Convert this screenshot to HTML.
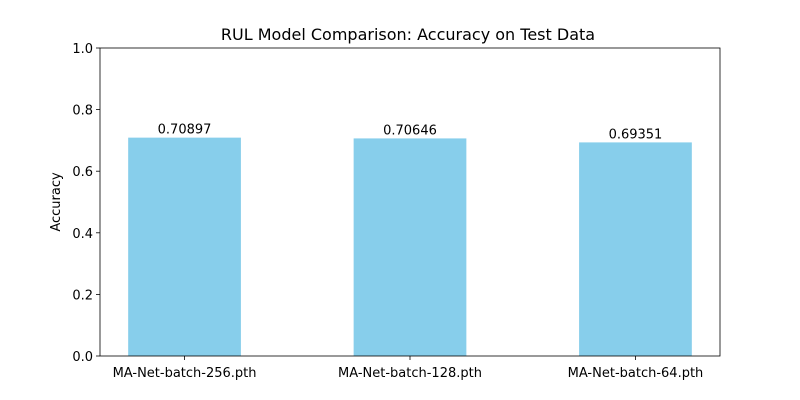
<!DOCTYPE html>
<html><head><meta charset="utf-8"><style>
body{margin:0;background:#fff;}
svg{display:block;font-family:"DejaVu Sans","Liberation Sans",sans-serif;}
</style></head><body>
<svg id="chart" width="800" height="400">
<rect width="800" height="400" fill="#fff"/>
<text x="408" y="40" font-size="16" text-anchor="middle">RUL Model Comparison: Accuracy on Test Data</text>
<text transform="translate(60,202) rotate(-90)" font-size="13" text-anchor="middle">Accuracy</text>
<g id="plot"></g>
</svg>
<script>
const categories = ["MA-Net-batch-256.pth","MA-Net-batch-128.pth","MA-Net-batch-64.pth"];
const values = [0.70897, 0.70646, 0.69351];
const labels = ["0.70897","0.70646","0.69351"];
const yTicks = [0,0.2,0.4,0.6,0.8,1.0];
const yTickLabels = ["0.0","0.2","0.4","0.6","0.8","1.0"];

const L=100,R=720,T=48,B=356;
const xmin=-0.375, xmax=2.375;
const xs=v=>L+(v-xmin)/(xmax-xmin)*(R-L);
const ys=v=>B-(v-0)/(1-0)*(B-T);
const NS="http://www.w3.org/2000/svg";
const g=document.getElementById('plot');
function mk(tag,attrs,text){const e=document.createElementNS(NS,tag);for(const k in attrs)e.setAttribute(k,attrs[k]);if(text!==undefined)e.textContent=text;g.appendChild(e);return e;}

values.forEach((v,i)=>{
  const r=mk('rect',{x:xs(i-0.25),y:ys(v),width:xs(i+0.25)-xs(i-0.25),height:ys(0)-ys(v),fill:'#87ceeb'});
  
  
  const t=mk('text',{x:xs(i),y:ys(v)-4,'font-size':13,'text-anchor':'middle'},labels[i]);
  
  
  const tk=mk('line',{x1:xs(i),x2:xs(i),y1:B,y2:B+4,stroke:'#000','stroke-width':0.8});
  
  
  const xl=mk('text',{x:xs(i),y:B+21,'font-size':13,'text-anchor':'middle'},categories[i]);
  
  
});
yTicks.forEach((v,i)=>{
  const tk=mk('line',{x1:L-4,x2:L,y1:ys(v),y2:ys(v),stroke:'#000','stroke-width':0.8});
  
  
  const tl=mk('text',{x:L-7,y:ys(v)+5,'font-size':13,'text-anchor':'end'},yTickLabels[i]);
  
  
});
const fr=mk('rect',{x:L,y:T,width:R-L,height:B-T,fill:'none',stroke:'#000','stroke-width':0.8});


</script>
</body></html>
